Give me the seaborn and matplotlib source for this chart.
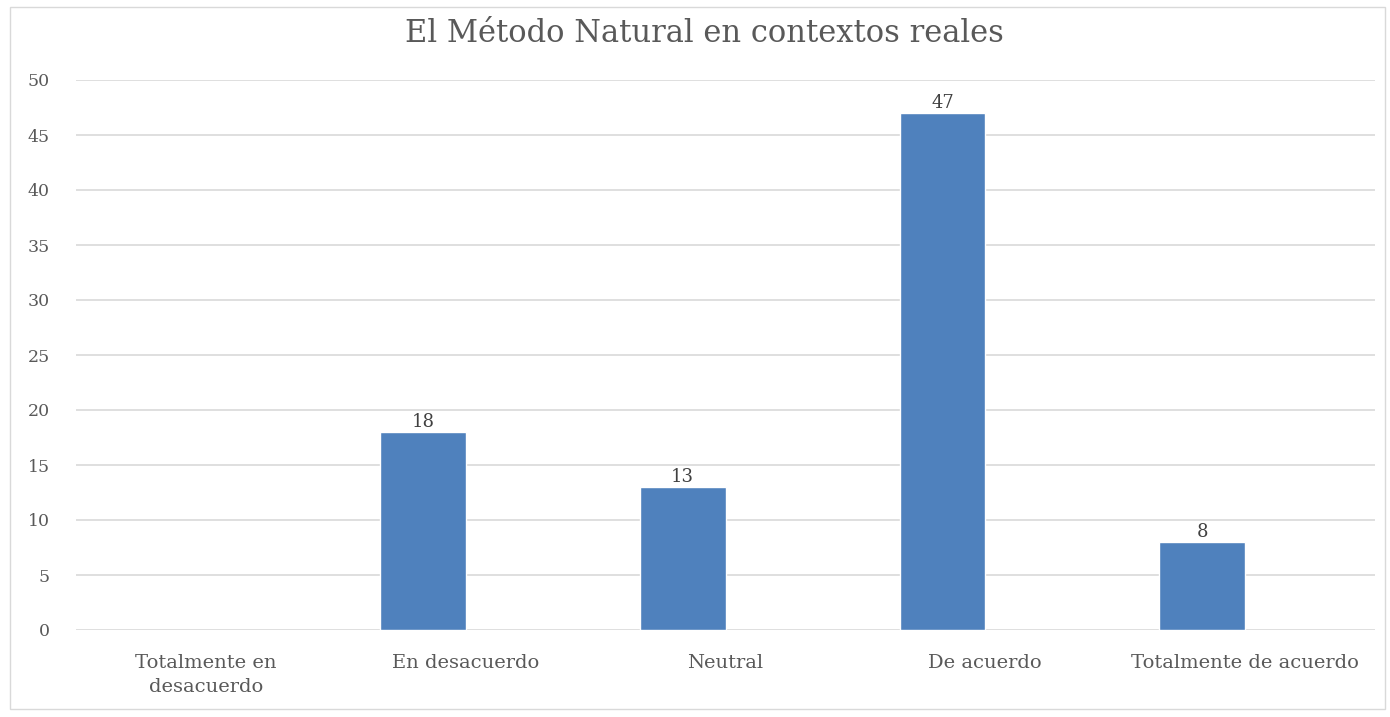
import pandas as pd
import matplotlib.pyplot as plt
import seaborn as sns
from matplotlib.patches import Rectangle

categorias = ["Totalmente en\ndesacuerdo", "En desacuerdo", "Neutral", "De acuerdo", "Totalmente de acuerdo"]
valores = [None, 18, 13, 47, 8]
series = ["Serie 1", "Serie 2"]

df = pd.DataFrame({"categoria": categorias, "valor": valores, "serie": series[0]})

sns.set_theme(style="white")
plt.rcParams["font.family"] = ["DejaVu Serif"]

fig = plt.figure(figsize=(13.9, 7.17), dpi=100)
ax = fig.add_axes([76 / 1390, 87 / 717, 1299 / 1390, 550 / 717])

sns.barplot(data=df, x="categoria", y="valor", hue="serie", hue_order=series,
            order=categorias, palette=["#4F81BD", "#4F81BD"], width=0.66,
            dodge=True, legend=False, ax=ax, saturation=1)

for c in ax.containers:
    labels = ["" if pd.isna(v) else f"{v:.0f}" for v in c.datavalues]
    ax.bar_label(c, labels=labels, fontsize=13, color="#404040", padding=1)

ax.set_ylim(0, 50)
ax.set_yticks(range(0, 51, 5))
ax.grid(axis="y", color="#D9D9D9", linewidth=1.2)
ax.set_axisbelow(True)
for s in ax.spines.values():
    s.set_visible(False)
ax.tick_params(axis="x", length=0, pad=17, labelsize=14, labelcolor="#595959")
for t in ax.get_xticklabels():
    t.set_linespacing(1.45)
ax.tick_params(axis="y", length=0, pad=19, labelsize=12.5, labelcolor="#595959")
ax.set_xlabel("")
ax.set_ylabel("")

fig.text(0.507, 1 - 33 / 717, "El Método Natural en contextos reales", ha="center", va="center",
         fontsize=22, color="#595959")

fig.patches.append(Rectangle((10 / 1390, 8 / 717), 1375 / 1390, 702 / 717, transform=fig.transFigure,
                             fill=False, edgecolor="#D9D9D9", linewidth=1))

fig.savefig("out.png", dpi=100)
